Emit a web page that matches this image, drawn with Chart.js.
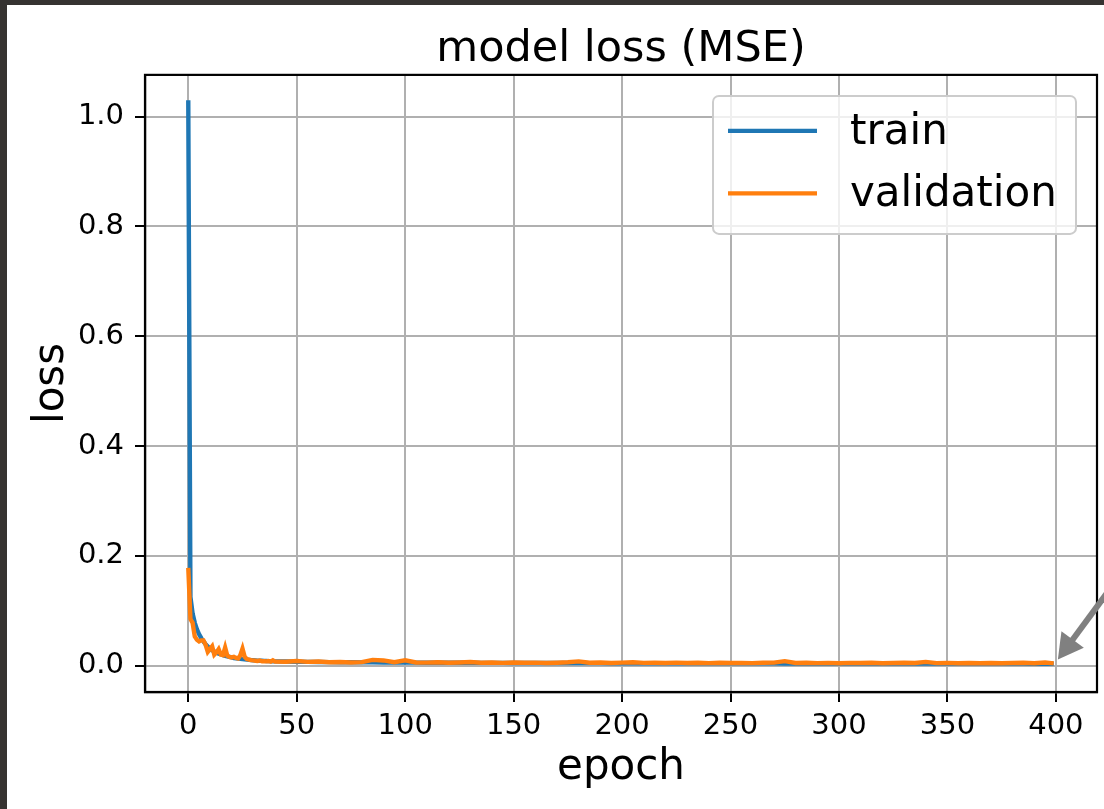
<!DOCTYPE html>
<html>
<head>
<meta charset="utf-8">
<script src="https://cdn.jsdelivr.net/npm/chart.js@4/dist/chart.umd.min.js"></script>
<style>
  body{margin:0;background:#363331;width:1104px;height:809px;overflow:hidden;}
  #wrap{position:absolute;left:7px;top:5px;width:1097px;height:804px;background:#fff;}
  canvas{display:block;}
</style>
</head>
<body>
<div id="wrap"><canvas id="lossChart" width="1097" height="804"></canvas></div>
<script>
// epochs sampled: every epoch while the loss is falling, every 5 after that
var epochs=[0,1,2,3,4,5,6,7,8,9,10,11,12,13,14,15,16,17,18,19,20,21,22,23,24,25,26,27,28,29,30,31,32,33,34,35,36,37,38,39,40,
  45,50,55,60,65,70,75,80,85,90,95,100,105,110,115,120,125,130,135,140,145,150,155,160,165,170,175,180,185,190,195,200,
  205,210,215,220,225,230,235,240,245,250,255,260,265,270,275,280,285,290,295,300,305,310,315,320,325,330,335,340,345,350,355,360,365,370,375,380,385,390,395,399];
var trainLoss=[1.03,0.125,0.095,0.078,0.066,0.057,0.05,0.044,0.039,0.035,0.031,0.028,0.026,0.024,0.022,0.021,0.019,0.018,0.017,0.016,0.015,0.014,0.0135,0.013,0.0125,0.012,0.0115,0.011,0.0105,0.01,0.0098,0.0095,0.0092,0.009,0.0088,0.0086,0.0084,0.0082,0.008,0.0079,0.0078,
  0.0075,0.0072,0.0069,0.0067,0.0065,0.0063,0.0061,0.006,0.0059,0.0058,0.0057,0.0056,0.0055,0.0054,0.0054,0.0053,0.0052,0.0052,0.0051,0.005,0.005,0.0049,0.0049,0.0048,0.0048,0.0047,0.0047,0.0047,0.0046,0.0046,0.0045,0.0045,
  0.0045,0.0044,0.0044,0.0044,0.0043,0.0043,0.0043,0.0042,0.0042,0.0042,0.0041,0.0041,0.0041,0.0041,0.004,0.004,0.004,0.004,0.0039,0.0039,0.0039,0.0039,0.0038,0.0038,0.0038,0.0038,0.0038,0.0037,0.0037,0.0037,0.0037,0.0037,0.0036,0.0036,0.0036,0.0036,0.0036,0.0035,0.0035,0.0035];
var valLoss=[0.178,0.085,0.078,0.053,0.047,0.044,0.046,0.046,0.038,0.025,0.03,0.035,0.02,0.024,0.03,0.02,0.019,0.033,0.018,0.016,0.015,0.016,0.014,0.013,0.019,0.031,0.016,0.012,0.011,0.01,0.0095,0.009,0.0085,0.0095,0.008,0.0082,0.0078,0.0085,0.0075,0.0098,0.0075,
  0.0072,0.0085,0.0068,0.0075,0.0062,0.0066,0.0058,0.0064,0.0105,0.0095,0.0062,0.0098,0.0058,0.0055,0.0062,0.0052,0.0058,0.0065,0.0052,0.0056,0.005,0.0058,0.0052,0.0055,0.0049,0.0054,0.0062,0.0078,0.0052,0.0056,0.0048,0.0055,
  0.0062,0.005,0.0053,0.0047,0.0055,0.0049,0.0052,0.0046,0.0053,0.0049,0.0051,0.0046,0.0052,0.0055,0.0082,0.0049,0.0053,0.0046,0.0051,0.0045,0.005,0.0047,0.0052,0.0045,0.0049,0.0054,0.0048,0.0068,0.0046,0.005,0.0044,0.0049,0.0045,0.0048,0.0043,0.0047,0.0052,0.0045,0.0058,0.0042];
var xTicks=[0,50,100,150,200,250,300,350,400];
var yTicks=[0,0.2,0.4,0.6,0.8,1.0];
var seriesNames=["train","validation"];
var seriesColors=["#1f77b4","#ff7f0e"];
// annotation arrow points at the last epoch
var arrowTip=[400,0.011];

var font="'DejaVu Sans', sans-serif";

function points(ys){
  return epochs.map(function(e, i){ return {x: e, y: ys[i]}; });
}

// spines on all 4 sides, like matplotlib
var spines={
  id: "spines",
  afterDatasetsDraw: function(chart){
    var a=chart.chartArea, ctx=chart.ctx;
    ctx.save();
    ctx.strokeStyle="#000";
    ctx.lineWidth=2.2;
    ctx.strokeRect(a.left, a.top, a.right-a.left, a.bottom-a.top);
    ctx.restore();
  }
};

// legend box in the upper right of the axes
var boxLegend={
  id: "boxLegend",
  afterDraw: function(chart){
    var a=chart.chartArea, ctx=chart.ctx;
    var w=363, h=138;
    var x=a.right-21-w, y=a.top+21;
    ctx.save();
    ctx.beginPath();
    ctx.roundRect(x, y, w, h, 6);
    ctx.fillStyle="rgba(255,255,255,0.8)";
    ctx.fill();
    ctx.strokeStyle="#cccccc";
    ctx.lineWidth=2;
    ctx.stroke();
    ctx.font="42px "+font;
    ctx.textBaseline="middle";
    ctx.fillStyle="#000";
    chart.data.datasets.forEach(function(ds, i){
      var ly=y+35+i*62.5;
      ctx.beginPath();
      ctx.moveTo(x+15, ly);
      ctx.lineTo(x+104, ly);
      ctx.strokeStyle=ds.borderColor;
      ctx.lineWidth=4.2;
      ctx.stroke();
      ctx.fillText(ds.label, x+137, ly+2);
    });
    ctx.restore();
  }
};

// grey annotation arrow coming in from the right edge
var arrow={
  id: "arrow",
  afterDraw: function(chart){
    var ctx=chart.ctx;
    var tx=chart.scales.x.getPixelForValue(arrowTip[0])+2;
    var ty=chart.scales.y.getPixelForValue(arrowTip[1]);
    var ux=0.59, uy=-0.8;
    var len=25, half=14;
    var bx=tx+ux*len, by=ty+uy*len;
    ctx.save();
    ctx.strokeStyle="#808080";
    ctx.fillStyle="#808080";
    ctx.lineWidth=6;
    ctx.beginPath();
    ctx.moveTo(bx-ux*2, by-uy*2);
    ctx.lineTo(tx+ux*160, ty+uy*160);
    ctx.stroke();
    ctx.beginPath();
    ctx.moveTo(tx, ty);
    ctx.lineTo(bx-uy*half, by+ux*half);
    ctx.lineTo(bx+uy*half, by-ux*half);
    ctx.closePath();
    ctx.fill();
    ctx.restore();
  }
};

var ctx=document.getElementById("lossChart").getContext("2d");
var lossChart=new Chart(ctx, {
  type: "line",
  data: {
    datasets: [
      {label: seriesNames[0], data: points(trainLoss), borderColor: seriesColors[0], backgroundColor: seriesColors[0], borderWidth: 4.4, pointRadius: 0, tension: 0, order: 1},
      {label: seriesNames[1], data: points(valLoss), borderColor: seriesColors[1], backgroundColor: seriesColors[1], borderWidth: 4.4, pointRadius: 0, tension: 0, order: 0}
    ]
  },
  options: {
    responsive: false,
    animation: false,
    devicePixelRatio: 1,
    layout: {padding: {left: 0, right: 7, top: 0, bottom: 0}},
    plugins: {
      legend: {display: false},
      tooltip: {enabled: false},
      title: {
        display: true,
        fullSize: false,
        text: "model loss (MSE)",
        color: "#000",
        font: {family: font, size: 43, weight: "normal", lineHeight: 1.16},
        padding: {top: 20, bottom: 0}
      }
    },
    scales: {
      x: {
        type: "linear",
        min: -19.95,
        max: 418.95,
        afterBuildTicks: function(s){ s.ticks=xTicks.map(function(v){ return {value: v}; }); },
        afterFit: function(s){ s.height=117; },
        ticks: {color: "#000", font: {family: font, size: 29}, padding: 7, maxRotation: 0, autoSkip: false},
        grid: {color: "#b0b0b0", lineWidth: 2, tickColor: "#000", tickLength: 10, tickWidth: 2},
        border: {color: "#000", width: 2.2},
        title: {display: true, text: "epoch", color: "#000", font: {family: font, size: 42, lineHeight: 1.2}, padding: {top: 0, bottom: 16}}
      },
      y: {
        type: "linear",
        min: -0.048,
        max: 1.076,
        afterBuildTicks: function(s){ s.ticks=yTicks.map(function(v){ return {value: v}; }); },
        afterFit: function(s){ s.width=138; },
        ticks: {color: "#000", font: {family: font, size: 29}, padding: 11, callback: function(v){ return v.toFixed(1); }},
        grid: {color: "#b0b0b0", lineWidth: 2, tickColor: "#000", tickLength: 10, tickWidth: 2},
        border: {color: "#000", width: 2.2},
        title: {display: true, text: "loss", color: "#000", font: {family: font, size: 42, lineHeight: 1.2}, padding: {top: 20, bottom: 0}}
      }
    }
  },
  plugins: [spines, boxLegend, arrow]
});
</script>
</body>
</html>
